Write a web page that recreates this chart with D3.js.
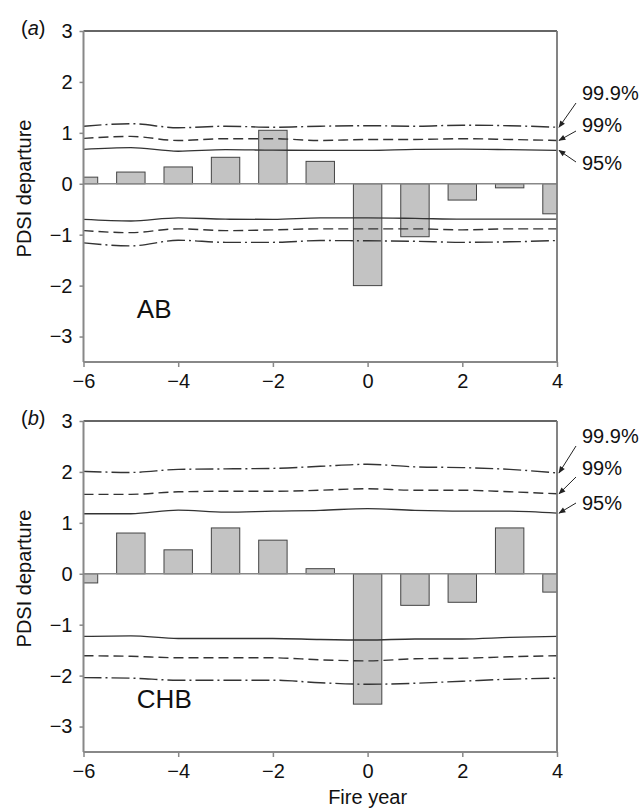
<!DOCTYPE html>
<html>
<head>
<meta charset="utf-8">
<script src="https://cdn.jsdelivr.net/npm/d3@7"></script>
<style>
html,body{margin:0;padding:0;background:#fff;}
svg{display:block;font-family:"Liberation Sans",Arial,sans-serif;}
</style>
</head>
<body>
<svg id="chart" width="644" height="809"></svg>
<script>
// ---- data ----
const years = [-6,-5,-4,-3,-2,-1,0,1,2,3,4];
const xTicks = [-6,-4,-2,0,2,4];
const yTicks = [-3,-2,-1,0,1,2,3];
const levelLabels = ["99.9%","99%","95%"];

const abBars  = [0.13,0.23,0.33,0.52,1.05,0.44,-2.0,-1.04,-0.32,-0.08,-0.59];
const ab999Up = [1.13,1.18,1.10,1.13,1.11,1.13,1.14,1.13,1.15,1.14,1.11];
const ab99Up  = [0.89,0.93,0.85,0.885,0.885,0.85,0.87,0.87,0.885,0.87,0.85];
const ab95Up  = [0.675,0.71,0.64,0.67,0.66,0.656,0.656,0.675,0.68,0.67,0.656];
const ab95Lo  = [-0.70,-0.73,-0.67,-0.695,-0.70,-0.67,-0.67,-0.68,-0.695,-0.695,-0.695];
const ab99Lo  = [-0.92,-0.96,-0.885,-0.92,-0.905,-0.885,-0.885,-0.885,-0.905,-0.885,-0.885];
const ab999Lo = [-1.16,-1.22,-1.11,-1.15,-1.15,-1.115,-1.12,-1.13,-1.15,-1.14,-1.115];

const chbBars  = [-0.18,0.80,0.47,0.90,0.66,0.10,-2.56,-0.62,-0.56,0.90,-0.36];
const chb999Up = [2.01,1.99,2.05,2.06,2.07,2.11,2.15,2.10,2.085,2.05,1.98];
const chb99Up  = [1.56,1.56,1.61,1.62,1.62,1.64,1.67,1.64,1.64,1.61,1.57];
const chb95Up  = [1.18,1.18,1.25,1.21,1.23,1.245,1.28,1.245,1.23,1.23,1.19];
const chb95Lo  = [-1.23,-1.22,-1.27,-1.27,-1.27,-1.29,-1.30,-1.28,-1.28,-1.25,-1.23];
const chb99Lo  = [-1.61,-1.62,-1.65,-1.65,-1.65,-1.69,-1.71,-1.67,-1.66,-1.63,-1.61];
const chb999Lo = [-2.04,-2.05,-2.09,-2.09,-2.09,-2.14,-2.17,-2.15,-2.11,-2.07,-2.05];

const panels = [
  {tag:"a", name:"AB", top:31, bottom:362, bars:abBars,
   up:[ab999Up,ab99Up,ab95Up], lo:[ab999Lo,ab99Lo,ab95Lo],
   labelY:[100,132,170], arrowFrom:[[576,103],[576,131],[576,162]]},
  {tag:"b", name:"CHB", top:421, bottom:752, bars:chbBars,
   up:[chb999Up,chb99Up,chb95Up], lo:[chb999Lo,chb99Lo,chb95Lo],
   labelY:[443,475,510], arrowFrom:[[576,446],[576,477],[576,503]]}
];

const styles = [
  {dash:"18,4,2,4"},   // 99.9%
  {dash:"10,5"},       // 99%
  {dash:null}          // 95%
];

const svg = d3.select("#chart");
const left = 83.5, right = 557;
const x = d3.scaleLinear().domain([-6,4]).range([left,right]);

const defs = svg.append("defs");
defs.append("marker").attr("id","arr").attr("viewBox","0 0 10 10")
  .attr("refX",9).attr("refY",5).attr("markerWidth",10).attr("markerHeight",7)
  .attr("markerUnits","userSpaceOnUse").attr("orient","auto")
  .append("path").attr("d","M0,1 L10,5 L0,9 Z").attr("fill","#222");

const barW = x(0.3) - x(0);

panels.forEach((p,pi)=>{
  const y = d3.scaleLinear().domain([-3.5,3]).range([p.bottom,p.top]);
  const g = svg.append("g");
  const clipId = "clip"+pi;
  defs.append("clipPath").attr("id",clipId).append("rect")
    .attr("x",left).attr("y",p.top).attr("width",right-left).attr("height",p.bottom-p.top);

  const plot = g.append("g").attr("clip-path",`url(#${clipId})`);

  // bars
  plot.selectAll("rect.bar").data(years.map((yr,i)=>({yr,v:p.bars[i]})))
    .enter().append("rect").attr("class","bar")
    .attr("x",d=>x(d.yr)-barW).attr("width",barW*2)
    .attr("y",d=>y(Math.max(0,d.v))).attr("height",d=>Math.abs(y(d.v)-y(0)))
    .attr("fill","#c3c3c3").attr("stroke","#444").attr("stroke-width",1);

  // zero line
  plot.append("line").attr("x1",left).attr("x2",right).attr("y1",y(0)).attr("y2",y(0))
    .attr("stroke","#888").attr("stroke-width",1.5);

  // confidence lines
  const line = d3.line().x((d,i)=>x(years[i])).y(d=>y(d)).curve(d3.curveMonotoneX);
  [p.up,p.lo].forEach(set=>{
    set.forEach((arr,k)=>{
      plot.append("path").attr("d",line(arr)).attr("fill","none")
        .attr("stroke","#333").attr("stroke-width",1.4)
        .attr("stroke-dasharray",styles[k].dash);
    });
  });

  // frame
  g.append("line").attr("x1",left).attr("x2",right).attr("y1",p.top).attr("y2",p.top)
    .attr("stroke","#333").attr("stroke-width",1.5);
  g.append("line").attr("x1",right).attr("x2",right).attr("y1",p.top).attr("y2",p.bottom)
    .attr("stroke","#777").attr("stroke-width",1.8);

  // axes
  const yAxis = d3.axisLeft(y).tickValues(yTicks).tickSize(4).tickPadding(7)
    .tickFormat(d=>d<0?"\u2212"+Math.abs(d):String(d));
  const ya = g.append("g").attr("transform",`translate(${left},0)`).call(yAxis);
  ya.select(".domain").attr("stroke","#888").attr("stroke-width",2)
    .attr("d",`M0,${p.top}V${p.bottom}`);
  ya.selectAll(".tick line").attr("stroke","#888").attr("stroke-width",1.5);
  ya.selectAll(".tick text").attr("font-size",20).attr("fill","#111")
    .attr("font-family","Liberation Sans, Arial, sans-serif");

  const xAxis = d3.axisBottom(x).tickValues(xTicks).tickSize(5).tickPadding(7)
    .tickFormat(d=>d<0?"\u2212"+Math.abs(d):String(d));
  const xa = g.append("g").attr("transform",`translate(0,${p.bottom})`).call(xAxis);
  xa.select(".domain").attr("stroke","#888").attr("stroke-width",2)
    .attr("d",`M${left},0H${right}`);
  xa.selectAll(".tick line").attr("stroke","#888").attr("stroke-width",1.5);
  xa.selectAll(".tick text").attr("font-size",20).attr("fill","#111")
    .attr("font-family","Liberation Sans, Arial, sans-serif");

  // y label
  g.append("text").attr("transform",`translate(31,${(p.top+p.bottom)/2 - 8}) rotate(-90)`)
    .attr("text-anchor","middle").attr("font-size",20).attr("fill","#111")
    .text("PDSI departure");

  // panel tag
  const t = g.append("text").attr("x",21).attr("y",p.top+4).attr("font-size",20).attr("fill","#111");
  t.append("tspan").text("(");
  t.append("tspan").attr("font-style","italic").text(p.tag);
  t.append("tspan").text(")");

  // site name
  g.append("text").attr("x",x(-5)+6).attr("y",y(-2.6)+2).attr("font-size",26).attr("fill","#111")
    .text(p.name);

  // level labels + arrows
  levelLabels.forEach((lab,k)=>{
    g.append("text").attr("x",582).attr("y",p.labelY[k]).attr("font-size",20).attr("fill","#111").text(lab);
    const endY = y(p.up[k][p.up[k].length-1]);
    const [fx,fy] = p.arrowFrom[k];
    g.append("path").attr("d",`M${fx},${fy} L${right+2},${endY}`)
      .attr("fill","none").attr("stroke","#222").attr("stroke-width",1)
      .attr("marker-end","url(#arr)");
  });
});

// x label
svg.append("text").attr("x",x(0)).attr("y",804).attr("text-anchor","middle")
  .attr("font-size",20).attr("fill","#111").text("Fire year");
</script>
</body>
</html>
